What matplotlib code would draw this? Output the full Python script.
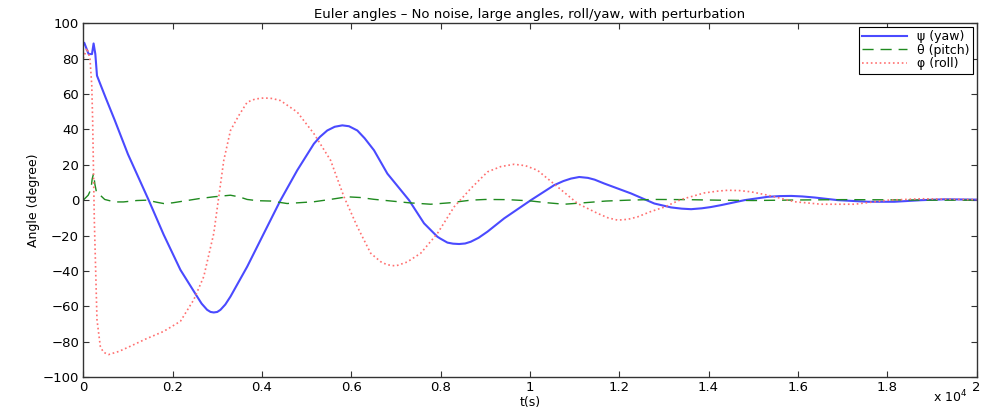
import matplotlib
matplotlib.use("Agg")
import matplotlib.pyplot as plt

# values (t in seconds, angles in degrees)
t_yaw = [0, 22, 120, 195, 231, 270, 307, 500, 700, 1000, 1465, 1800, 2175, 2549,
         2650, 2773, 2850, 2922, 3000, 3072, 3180, 3296, 3670, 4043, 4417, 4791,
         5164, 5300, 5463, 5630, 5800, 5950, 6136, 6300, 6510, 6809, 7294, 7630,
         7930, 8000, 8154, 8280, 8415, 8550, 8677, 8850, 9051, 9424, 10022, 10545,
         10750, 10919, 11105, 11300, 11450, 11666, 12265, 12787, 13161, 13400,
         13610, 13850, 14050, 14283, 14805, 15329, 15600, 15852, 16100, 16375,
         16898, 17570, 18160, 18767, 19290, 20000]
yaw = [88, 89, 82.6, 82.6, 88.6, 82.6, 70.4, 58, 45.5, 26, 0, -19.5, -39.4, -54.5,
       -58.5, -62, -63.2, -63.5, -63.2, -62, -59, -54.5, -37.6, -18.8, 0, 16.9,
       31.9, 35.8, 39.4, 41.5, 42.3, 41.8, 39.4, 35, 28.2, 15, 0, -13.1,
       -20.7, -21.8, -24, -24.6, -24.8, -24.5, -23.5, -21.3, -17.8, -10.3, 0, 8.5,
       10.8, 12.2, 13.1, 12.6, 11.6, 9.4, 3.8, -1.9, -4.1, -4.8,
       -5.1, -4.6, -3.9, -2.8, 0, 1.9, 2.3, 2.4, 2.1, 1.5,
       0, -0.9, -0.9, 0, 0.5, 0.3]

t_pitch = [0, 110, 170, 200, 230, 260, 300, 380, 480, 700, 900, 1200, 1430, 1650,
           1800, 2000, 2300, 2600, 2922, 3296, 3500, 3670, 3900, 4200, 4566, 4800,
           5164, 5500, 5912, 6200, 6500, 6900, 7300, 7780, 8200, 8677, 9000, 9500,
           10000, 10400, 10770, 11200, 11700, 12200, 12800, 13500, 14200, 15000,
           16000, 17000, 18000, 19000, 20000]
pitch = [0, 2.8, 6, 12, 15, 9, 4, 2.8, 0.4, -1, -1, -0.2, 0, -1.2,
         -1.9, -1.5, -0.3, 0.9, 1.9, 2.8, 1.8, 0.4, -0.3, -0.5, -1.9, -1.5,
         -0.9, 0.3, 1.9, 1.5, 0.5, -0.5, -1.5, -2.3, -1.5, 0, 0.4, 0.3,
         -0.4, -1.5, -2.3, -1.5, -0.5, 0, 0.4, 0.3, 0, -0.2,
         0.1, 0.3, 0.2, 0, 0]

t_roll = [0, 82, 150, 190, 210, 247, 307, 381, 450, 568, 800, 1054, 1400, 1800,
          2175, 2474, 2698, 2922, 3034, 3146, 3296, 3483, 3670, 3850, 4043, 4230,
          4417, 4791, 5164, 5538, 5837, 6136, 6435, 6659, 6800, 6996, 7250, 7556,
          7930, 8303, 8677, 9051, 9350, 9648, 9900, 10170, 10621, 11069, 11518,
          11750, 11966, 12200, 12415, 12700, 13000, 13386, 13908, 14200, 14432,
          14700, 14955, 15329, 15927, 16525, 17272, 18020, 18767, 19500, 20000]
roll = [80, 86, 80, 65, 45, -11, -67.6, -82.6, -86, -87.3, -85.5, -82.6, -78.5, -74.2,
        -68.5, -56.3, -43.2, -18.8, 1.9, 22.5, 39.4, 47.9, 55.4, 57.2, 57.8, 57.5,
        56.3, 49.8, 37.6, 22.5, 1.9, -15, -30, -34.8, -36.5, -37.2, -35, -30,
        -18.8, -3.8, 6.6, 16, 19, 20.3, 19.5, 16.9, 7.5, -1.9, -7.5,
        -10, -11.3, -10.8, -9.4, -6.5, -4, 0.4, 4.1, 5.1, 5.6,
        5.4, 4.7, 2.8, -0.9, -2.3, -2.3, 0, 0.8, 0.5, 0.3]

x_ticks = [0, 2000, 4000, 6000, 8000, 10000, 12000, 14000, 16000, 18000, 20000]
x_ticklabels = ["0", "0.2", "0.4", "0.6", "0.8", "1", "1.2", "1.4", "1.6", "1.8", "2"]
y_ticks = list(range(-100, 101, 20))

plt.rcParams["font.family"] = ["DejaVu Sans"]
fig = plt.figure(figsize=(9.82, 4.09), dpi=100)
ax = fig.add_axes([0.0848, 0.0782, 0.9096, 0.8648])

ax.plot(t_yaw, yaw, color="#4a4aff", lw=1.5, label="\u03c8 (yaw)")
ax.plot(t_pitch, pitch, color="#1f8a1f", lw=1.0, dashes=(8, 5), label="\u03b8 (pitch)")
ax.plot(t_roll, roll, color="#ff7070", lw=1.2, ls=":", label="\u03c6 (roll)")

ax.set_xlim(0, 20000)
ax.set_ylim(-100, 100)
ax.set_xticks(x_ticks)
ax.set_xticklabels(x_ticklabels)
ax.set_yticks(y_ticks)
ax.tick_params(direction="in", length=4, width=0.8, colors="#333333",
               labelcolor="black", labelsize=9.5, top=True, right=True, pad=3)
for s in ax.spines.values():
    s.set_color("#333333")
    s.set_linewidth(1.0)

ax.set_title("Euler angles \u2013 No noise, large angles, roll/yaw, with perturbation",
             fontsize=9.5, pad=4)
ax.set_xlabel("t(s)", fontsize=9, labelpad=1)
ax.set_ylabel("Angle (degree)", fontsize=9, labelpad=2)
fig.text(0.968, 0.008, "x 10$^4$", fontsize=9, ha="center", va="bottom")

leg = ax.legend(loc="upper right", fontsize=9, fancybox=False, framealpha=1,
                edgecolor="black", borderaxespad=0.3, handlelength=3.6,
                borderpad=0.25, labelspacing=0.05, handletextpad=0.8)
leg.get_frame().set_linewidth(0.8)

fig.savefig("out.png", dpi=100)
